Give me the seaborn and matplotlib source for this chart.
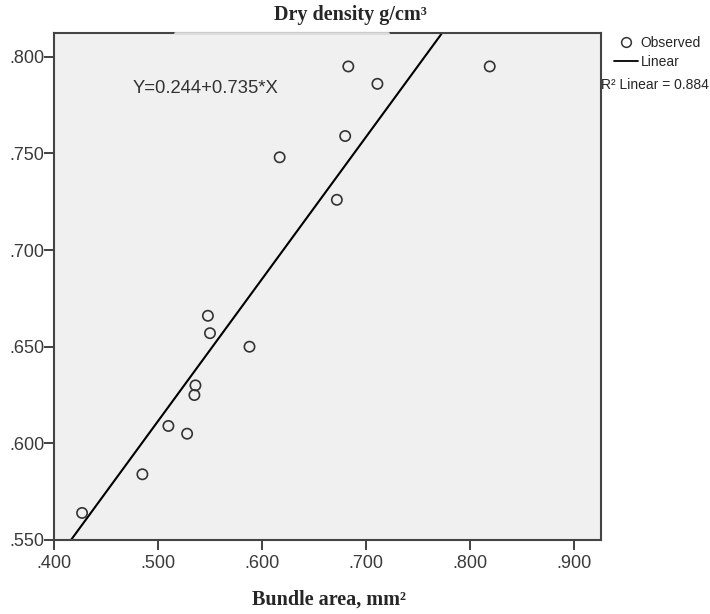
import matplotlib
matplotlib.use("Agg")
import matplotlib.pyplot as plt
import seaborn as sns
import pandas as pd
import numpy as np
from matplotlib.lines import Line2D

# values
bundle_area = [0.427, 0.485, 0.510, 0.528, 0.536, 0.535, 0.548, 0.550, 0.588,
               0.617, 0.672, 0.680, 0.683, 0.711, 0.819]
dry_density = [0.564, 0.584, 0.609, 0.605, 0.630, 0.625, 0.666, 0.657, 0.650,
               0.748, 0.726, 0.759, 0.795, 0.786, 0.795]
intercept = 0.244
slope = 0.735
r2 = 0.884
x_ticks = [0.4, 0.5, 0.6, 0.7, 0.8, 0.9]
y_ticks = [0.55, 0.60, 0.65, 0.70, 0.75, 0.80]

df = pd.DataFrame({"Bundle area": bundle_area, "Dry density": dry_density})

sns.set_style("ticks")
plt.rcParams["font.family"] = ["Liberation Sans", "DejaVu Sans"]

fig = plt.figure(figsize=(7.1, 6.14), dpi=100)
ax = fig.add_axes([54/710, 1-540/614, 547/710, 507/614])
ax.set_facecolor("#f0f0f0")

sns.scatterplot(data=df, x="Bundle area", y="Dry density", ax=ax, marker="o",
                s=55, facecolor="none", edgecolor="#333333", linewidth=1.2, zorder=3)
ax.axline((0, intercept), slope=slope, color="black", lw=1.5, zorder=2)

ax.set_xlim(0.4, 0.926)
ax.set_ylim(0.55, 0.8123)
ax.set_xticks(x_ticks)
ax.set_yticks(y_ticks)
ax.set_xticklabels([f"{v:.3f}".lstrip("0") for v in x_ticks])
ax.set_yticklabels([f"{v:.3f}".lstrip("0") for v in y_ticks])
ax.tick_params(axis="both", direction="out", length=7, width=1.3, color="#333333",
               labelsize=13, labelcolor="#3a3a3a")
ax.tick_params(axis="y", pad=0)
ax.tick_params(axis="x", pad=4)
for sp in ax.spines.values():
    sp.set_color("#444444")
    sp.set_linewidth(1.5)
    sp.set_visible(True)

# gap in the top border under the title
ax.plot([0.221, 0.611], [1, 1], transform=ax.transAxes, color="#dcdcdc",
        lw=2, clip_on=False, zorder=5)

ax.set_xlabel("")
ax.set_ylabel("")
fig.text(350/710, 1-15/614, "Dry density g/cm³", family="Liberation Serif",
         weight="bold", fontsize=14.5, ha="center", va="center")
fig.text(329/710, 1-600/614, "Bundle area, mm²", family="Liberation Serif",
         weight="bold", fontsize=14.5, ha="center", va="center")

ax.text(0.144, 0.8915, f"Y={intercept}+{slope}*X", transform=ax.transAxes,
        fontsize=13.3, color="#333333", ha="left", va="center")

handles = [Line2D([], [], marker="o", ls="none", mfc="none", mec="#333333", ms=7, mew=1.1),
           Line2D([], [], color="black", lw=1.3)]
fig.legend(handles, ["Observed", "Linear"], loc="upper left",
           bbox_to_anchor=(614/710, 1-36/614), frameon=False, fontsize=10,
           handlelength=1.7, handletextpad=0.2, labelspacing=0.35, borderpad=0,
           borderaxespad=0)
fig.text(601/710, 1-85/614, f"R² Linear = {r2}", fontsize=10, ha="left", va="center")

fig.savefig("out.png", dpi=100)
